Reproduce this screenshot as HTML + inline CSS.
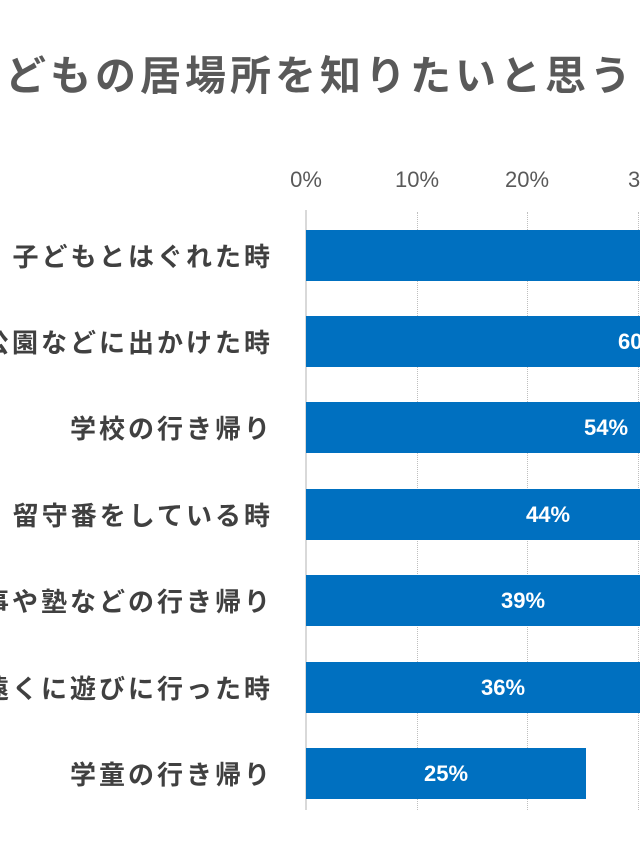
<!DOCTYPE html>
<html><head><meta charset="utf-8"><style>
body{margin:0;width:640px;height:853px;overflow:hidden;background:#fff;position:relative;font-family:"Liberation Sans","Noto Sans CJK JP",sans-serif}
.t{position:absolute;left:5px;top:42px;font-size:41px;font-weight:bold;color:#595959;letter-spacing:4px;white-space:nowrap}
.ax{position:absolute;top:167px;font-size:22px;color:#595959;transform:translateX(-50%)}
.g{position:absolute;top:212px;height:598px;border-left:1px dotted #bfbfbf}
.bar{position:absolute;left:306px;height:51px;background:#0070c0}
.c{position:absolute;right:367px;font-size:26px;font-weight:bold;color:#404040;white-space:nowrap;letter-spacing:3px}
.v{position:absolute;font-size:22px;font-weight:bold;color:#fff;transform:translateX(-50%)}
</style></head><body>
<div class="t">どもの居場所を知りたいと思う</div>
<div class="ax" style="left:306px">0%</div>
<div class="ax" style="left:417px">10%</div>
<div class="ax" style="left:527px">20%</div>
<div class="ax" style="left:650px">30%</div>
<div class="g" style="left:417px"></div>
<div class="g" style="left:527px"></div>
<div class="g" style="left:638px"></div>
<div style="position:absolute;left:305px;top:210px;width:2px;height:600px;background:#d9d9d9"></div>

<div class="bar" style="top:230px;width:400px"></div>
<div class="bar" style="top:316px;width:400px"></div>
<div class="bar" style="top:402px;width:400px"></div>
<div class="bar" style="top:489px;width:400px"></div>
<div class="bar" style="top:575px;width:400px"></div>
<div class="bar" style="top:662px;width:400px"></div>
<div class="bar" style="top:748px;width:280px"></div>

<div class="c" style="top:237px">子どもとはぐれた時</div>
<div class="c" style="top:323px">公園などに出かけた時</div>
<div class="c" style="top:409px">学校の行き帰り</div>
<div class="c" style="top:496px">留守番をしている時</div>
<div class="c" style="top:582px">習い事や塾などの行き帰り</div>
<div class="c" style="top:669px">遠くに遊びに行った時</div>
<div class="c" style="top:755px">学童の行き帰り</div>

<div class="v" style="left:640px;top:329px">60%</div>
<div class="v" style="left:606px;top:415px">54%</div>
<div class="v" style="left:548px;top:502px">44%</div>
<div class="v" style="left:523px;top:588px">39%</div>
<div class="v" style="left:503px;top:675px">36%</div>
<div class="v" style="left:446px;top:761px">25%</div>
</body></html>
